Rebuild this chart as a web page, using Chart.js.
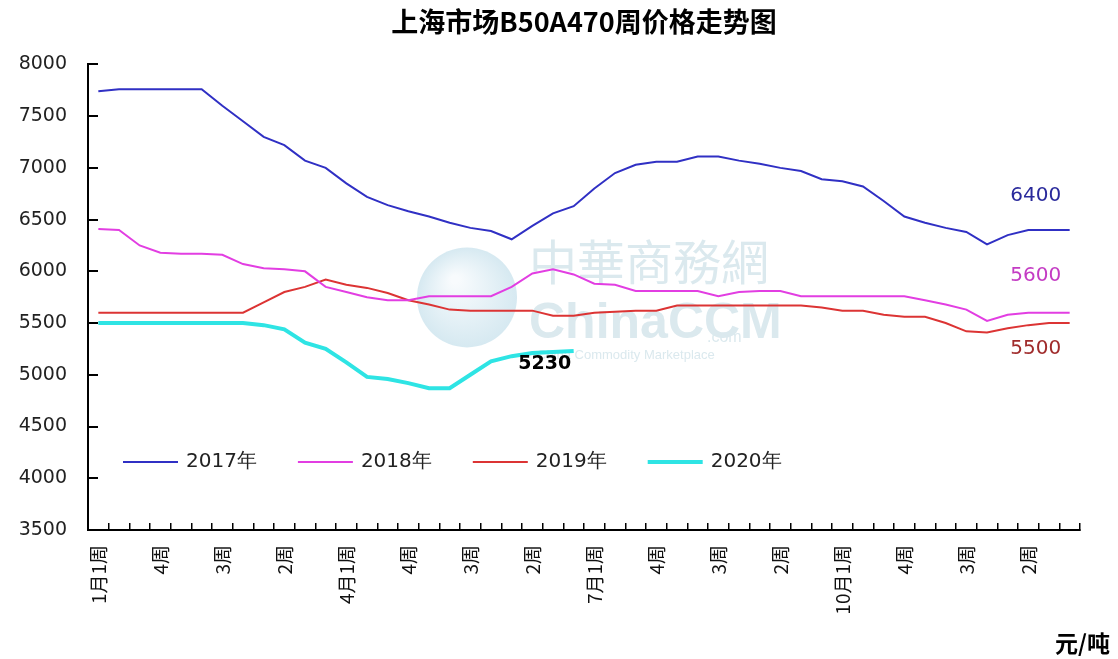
<!DOCTYPE html>
<html>
<head>
<meta charset="utf-8">
<title>上海市场B50A470周价格走势图</title>
<script src="https://cdn.jsdelivr.net/npm/chart.js@4"></script>
<style>
    html, body { margin: 0; padding: 0; background: #fff; }
    #wrap { width: 1118px; height: 659px; }
</style>
</head>
<body>
<div id="wrap"><canvas id="priceChart" width="1118" height="659"></canvas></div>
<script>
// weekly categories: 12 months x 4 weeks
const months = ['1月', '2月', '3月', '4月', '5月', '6月', '7月', '8月', '9月', '10月', '11月', '12月'];
const weeks = ['1周', '2周', '3周', '4周'];
const weekLabels = [];
months.forEach(m => weeks.forEach(w => weekLabels.push(m + w)));

// the original only labels every third week
const tickEvery = 3;
const tickLabels = ['1月1周', '4周', '3周', '2周', '4月1周', '4周', '3周', '2周',
                    '7月1周', '4周', '3周', '2周', '10月1周', '4周', '3周', '2周'];

const seriesNames = ['2017年', '2018年', '2019年', '2020年'];

// prices, 元/吨
const price2017 = [7740, 7760, 7760, 7760, 7760, 7760, 7600, 7450, 7300, 7220, 7070, 7000,
                   6850, 6720, 6640, 6580, 6530, 6470, 6420, 6390, 6310, 6440, 6560, 6630,
                   6800, 6950, 7030, 7060, 7060, 7110, 7110, 7070, 7040, 7000, 6970, 6890,
                   6870, 6820, 6680, 6530, 6470, 6420, 6380, 6260, 6350, 6400, 6400, 6400];
const price2018 = [6410, 6400, 6250, 6180, 6170, 6170, 6160, 6070, 6030, 6020, 6000, 5850,
                   5800, 5750, 5720, 5720, 5760, 5760, 5760, 5760, 5850, 5980, 6020, 5970,
                   5880, 5870, 5810, 5810, 5810, 5810, 5760, 5800, 5810, 5810, 5760, 5760,
                   5760, 5760, 5760, 5760, 5720, 5680, 5630, 5520, 5580, 5600, 5600, 5600];
const price2019 = [5600, 5600, 5600, 5600, 5600, 5600, 5600, 5600, 5700, 5800, 5850, 5920,
                   5870, 5840, 5790, 5720, 5680, 5630, 5620, 5620, 5620, 5620, 5570, 5570,
                   5600, 5610, 5620, 5620, 5670, 5670, 5670, 5670, 5670, 5670, 5670, 5650,
                   5620, 5620, 5580, 5560, 5560, 5500, 5420, 5410, 5450, 5480, 5500, 5500];
const price2020 = [5500, 5500, 5500, 5500, 5500, 5500, 5500, 5500, 5480, 5440, 5310, 5250,
                   5120, 4980, 4960, 4920, 4870, 4870, 5000, 5130, 5180, 5210, 5220, 5230,
                   null, null, null, null, null, null, null, null, null, null, null, null,
                   null, null, null, null, null, null, null, null, null, null, null, null];

const yMin = 3500;
const yMax = 8000;
const yStep = 500;

const cjk = '"Noto Sans CJK SC", "Noto Sans CJK JP", sans-serif';
const latin = '"DejaVu Sans", sans-serif';

// labels next to the last point of each line
const endLabels = [
    { ds: 0, color: '#2a2a9c', dx: -34, dy: -34, bold: false },
    { ds: 1, color: '#c43cc4', dx: -34, dy: -37, bold: false },
    { ds: 2, color: '#a02c2c', dx: -34, dy: 26, bold: false },
    { ds: 3, color: '#000000', dx: -29, dy: 13, bold: true }
];

// faint ChinaCCM watermark behind the lines
const watermark = {
    id: 'watermark',
    beforeDatasetsDraw(chart) {
        const { ctx, chartArea } = chart;
        const cx = chartArea.left + 379;
        const cy = chartArea.top + 233;
        ctx.save();
        const g = ctx.createRadialGradient(cx - 12, cy - 18, 4, cx, cy, 50);
        g.addColorStop(0, '#f8fbfd');
        g.addColorStop(1, '#d6e9f1');
        ctx.fillStyle = g;
        ctx.beginPath();
        ctx.arc(cx, cy, 50, 0, Math.PI * 2);
        ctx.fill();
        ctx.fillStyle = '#dbe9ee';
        ctx.textBaseline = 'middle';
        ctx.textAlign = 'left';
        ctx.font = '48px ' + cjk;
        ctx.fillText('中華商務網', cx + 62, cy - 36);
        ctx.font = 'bold 50px "Liberation Sans Narrow", "Liberation Sans", sans-serif';
        ctx.fillText('ChinaCCM', cx + 62, cy + 27);
        ctx.font = '16px "Liberation Sans", sans-serif';
        ctx.fillText('.com', cx + 240, cy + 40);
        ctx.font = '13px "Liberation Sans", sans-serif';
        ctx.fillText('China Commodity Marketplace', cx + 70, cy + 58);
        ctx.restore();
    }
};

// legend inside the plot, end labels and unit text
const overlay = {
    id: 'overlay',
    afterDraw(chart) {
        const { ctx, chartArea } = chart;
        ctx.save();
        ctx.textBaseline = 'middle';

        // legend row
        let x = chartArea.left + 35;
        const y = chartArea.bottom - 68;
        ctx.font = '20px ' + latin;
        chart.data.datasets.forEach(ds => {
            ctx.strokeStyle = ds.borderColor;
            ctx.lineWidth = ds.borderWidth;
            ctx.beginPath();
            ctx.moveTo(x, y);
            ctx.lineTo(x + 55, y);
            ctx.stroke();
            ctx.fillStyle = '#222';
            ctx.textAlign = 'left';
            ctx.fillText(ds.label, x + 63, y);
            x += 63 + ctx.measureText(ds.label).width + 41;
        });

        // last value labels
        endLabels.forEach(lab => {
            const meta = chart.getDatasetMeta(lab.ds);
            const values = chart.data.datasets[lab.ds].data;
            let last = values.length - 1;
            while (last > 0 && values[last] === null) last--;
            const pt = meta.data[last];
            ctx.fillStyle = lab.color;
            ctx.textAlign = 'center';
            ctx.font = (lab.bold ? 'bold 19px ' : '20px ') + latin;
            ctx.fillText(String(values[last]), pt.x + lab.dx, pt.y + lab.dy);
        });

        // unit
        ctx.fillStyle = '#000';
        ctx.textAlign = 'right';
        ctx.font = 'bold 23px ' + cjk;
        ctx.fillText('元/吨', chart.width - 8, chart.height - 16);
        ctx.restore();
    }
};

const ctx = document.getElementById('priceChart').getContext('2d');
new Chart(ctx, {
    type: 'line',
    data: {
        labels: weekLabels,
        datasets: [
            { label: seriesNames[0], data: price2017, borderColor: '#3030c4', borderWidth: 2 },
            { label: seriesNames[1], data: price2018, borderColor: '#e23ee2', borderWidth: 2 },
            { label: seriesNames[2], data: price2019, borderColor: '#dc3434', borderWidth: 2 },
            { label: seriesNames[3], data: price2020, borderColor: '#2ee4e4', borderWidth: 4 }
        ]
    },
    options: {
        responsive: false,
        animation: false,
        devicePixelRatio: 1,
        layout: { padding: { left: 0, right: 38, top: 0, bottom: 0 } },
        elements: {
            point: { radius: 0 },
            line: { tension: 0, fill: false }
        },
        plugins: {
            legend: { display: false },
            tooltip: { enabled: false },
            title: {
                display: true,
                text: '上海市场B50A470周价格走势图',
                color: '#000',
                fullSize: false,
                font: { family: cjk, size: 27, weight: 'bold' },
                padding: { top: 6, bottom: 26 }
            }
        },
        scales: {
            x: {
                offset: true,
                border: { display: true, color: '#000', width: 2 },
                grid: { display: true, offset: true, drawOnChartArea: false, color: '#000', lineWidth: 1.5, tickLength: -7 },
                ticks: {
                    autoSkip: false,
                    minRotation: 90,
                    maxRotation: 90,
                    padding: 22,
                    color: '#111',
                    font: { family: cjk, size: 19 },
                    callback: (val, idx) => idx % tickEvery === 0 ? tickLabels[idx / tickEvery] : ''
                },
                afterFit: scale => { scale.height = 129; }
            },
            y: {
                min: yMin,
                max: yMax,
                border: { display: true, color: '#000', width: 2 },
                grid: { display: true, drawOnChartArea: false, color: '#000', lineWidth: 2, tickLength: -10 },
                ticks: {
                    stepSize: yStep,
                    padding: 31,
                    color: '#222',
                    font: { family: latin, size: 19 },
                    callback: v => String(v)
                },
                afterFit: scale => { scale.width = 88; }
            }
        }
    },
    plugins: [watermark, overlay]
});
</script>
</body>
</html>
